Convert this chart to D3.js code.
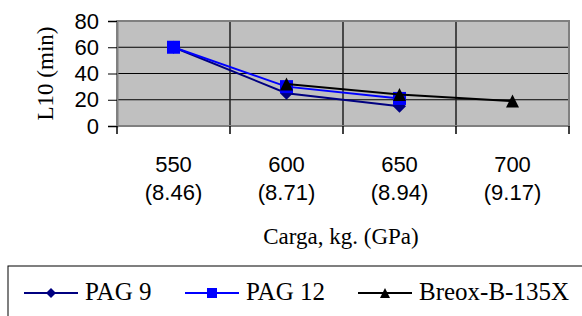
<!DOCTYPE html>
<html>
<head>
<meta charset="utf-8">
<script src="https://cdn.jsdelivr.net/npm/d3@7"></script>
<style>
  body { margin: 0; background: #fff; }
  svg { display: block; }
</style>
</head>
<body>
<div id="chart"></div>
<script>
// data
const categories = ["550", "600", "650", "700"];
const subLabels = ["(8.46)", "(8.71)", "(8.94)", "(9.17)"];
const pag9 = [60, 25, 15, null];
const pag12 = [60, 30, 21, null];
const breox = [null, 32, 24, 19];
const yTicks = [0, 20, 40, 60, 80];

const series = [
  { name: "PAG 9", values: pag9, color: "#000080", marker: "diamond" },
  { name: "PAG 12", values: pag12, color: "#0000ff", marker: "square" },
  { name: "Breox-B-135X", values: breox, color: "#000000", marker: "triangle" }
];

const sansFont = "'Liberation Sans', Arial, sans-serif";
const serifFont = "'Liberation Serif', 'Times New Roman', serif";

const width = 582, height = 316;
const plot = { left: 117, right: 569, top: 21, bottom: 126 };

const svg = d3.select("#chart").append("svg")
  .attr("width", width)
  .attr("height", height);

const x = d3.scaleBand().domain(categories).range([plot.left, plot.right]).padding(0);
const y = d3.scaleLinear().domain([0, 80]).range([plot.bottom, plot.top]);

// plot background
svg.append("rect")
  .attr("x", plot.left).attr("y", plot.top)
  .attr("width", plot.right - plot.left).attr("height", plot.bottom - plot.top)
  .attr("fill", "#c0c0c0");

// horizontal gridlines
svg.append("g").selectAll("line")
  .data(yTicks.filter(d => d > 0 && d < 80))
  .enter().append("line")
  .attr("x1", plot.left).attr("x2", plot.right)
  .attr("y1", d => y(d)).attr("y2", d => y(d))
  .attr("stroke", "#000").attr("stroke-width", 1);

// vertical gridlines at category boundaries
svg.append("g").selectAll("line")
  .data(categories.slice(1))
  .enter().append("line")
  .attr("x1", d => x(d)).attr("x2", d => x(d))
  .attr("y1", plot.top).attr("y2", plot.bottom)
  .attr("stroke", "#202020").attr("stroke-width", 1.5);

// plot border
svg.append("rect")
  .attr("x", plot.left).attr("y", plot.top)
  .attr("width", plot.right - plot.left).attr("height", plot.bottom - plot.top)
  .attr("fill", "none").attr("stroke", "#808080").attr("stroke-width", 2);

// y axis
const yAxis = svg.append("g")
  .attr("transform", `translate(${plot.left},0)`)
  .call(d3.axisLeft(y).tickValues(yTicks).tickSize(9).tickPadding(9));
yAxis.select(".domain").attr("stroke", "#808080").attr("stroke-width", 2);
yAxis.selectAll(".tick line").attr("stroke", "#000");
yAxis.selectAll("text")
  .attr("font-family", sansFont)
  .attr("font-size", 22).attr("fill", "#000");

// x axis: ticks at category boundaries
const xAxis = svg.append("g").attr("transform", `translate(0,${plot.bottom})`);
xAxis.append("line")
  .attr("x1", plot.left).attr("x2", plot.right)
  .attr("stroke", "#808080").attr("stroke-width", 2);
xAxis.selectAll(".xt")
  .data(categories.concat(["end"]))
  .enter().append("line")
  .attr("class", "xt")
  .attr("x1", (d, i) => plot.left + i * x.bandwidth())
  .attr("x2", (d, i) => plot.left + i * x.bandwidth())
  .attr("y1", 0).attr("y2", 8)
  .attr("stroke", "#000").attr("stroke-width", 1.5);

const xLabels = svg.append("g")
  .attr("font-family", sansFont)
  .attr("font-size", 22)
  .attr("text-anchor", "middle");
xLabels.selectAll(".c1").data(categories).enter().append("text")
  .attr("x", d => x(d) + x.bandwidth() / 2).attr("y", 172)
  .text(d => d);
xLabels.selectAll(".c2").data(subLabels).enter().append("text")
  .attr("x", (d, i) => x(categories[i]) + x.bandwidth() / 2).attr("y", 200)
  .text(d => d);

// axis titles
svg.append("text")
  .attr("x", (plot.left + plot.right) / 2 - 2).attr("y", 244)
  .attr("text-anchor", "middle")
  .attr("font-family", serifFont)
  .attr("font-size", 23)
  .text("Carga, kg. (GPa)");

svg.append("text")
  .attr("transform", `translate(53,${(plot.top + plot.bottom) / 2}) rotate(-90)`)
  .attr("text-anchor", "middle")
  .attr("font-family", serifFont)
  .attr("font-size", 23)
  .text("L10 (min)");

// marker helper
function markerPath(type, s) {
  if (type === "diamond") return `M0,${-s}L${s},0L0,${s}L${-s},0Z`;
  if (type === "square") return `M${-s},${-s}H${s}V${s}H${-s}Z`;
  return `M0,${-s}L${s},${s}H${-s}Z`;
}

// series
const line = d3.line()
  .defined(d => d.v != null)
  .x(d => x(d.c) + x.bandwidth() / 2)
  .y(d => y(d.v));

series.forEach(s => {
  const pts = categories.map((c, i) => ({ c: c, v: s.values[i] }));
  svg.append("path")
    .datum(pts)
    .attr("d", line)
    .attr("fill", "none")
    .attr("stroke", s.color)
    .attr("stroke-width", 2);
  svg.append("g").selectAll("path")
    .data(pts.filter(d => d.v != null))
    .enter().append("path")
    .attr("transform", d => `translate(${x(d.c) + x.bandwidth() / 2},${y(d.v)})`)
    .attr("d", markerPath(s.marker, 6.5))
    .attr("fill", s.color);
});

// legend
const legend = svg.append("g");
legend.append("rect")
  .attr("x", 8).attr("y", 266)
  .attr("width", 600).attr("height", 70)
  .attr("fill", "#fff").attr("stroke", "#000").attr("stroke-width", 1);

const legendX = [24, 185, 358];
series.forEach((s, i) => {
  const g = legend.append("g").attr("transform", `translate(${legendX[i]},293)`);
  g.append("line").attr("x1", 0).attr("x2", 54)
    .attr("stroke", s.color).attr("stroke-width", 2);
  g.append("path").attr("transform", "translate(27,0)")
    .attr("d", markerPath(s.marker, 5))
    .attr("fill", s.color);
  g.append("text")
    .attr("x", 61).attr("y", 7)
    .attr("font-family", serifFont)
    .attr("font-size", 25)
    .text(s.name);
});
</script>
</body>
</html>
